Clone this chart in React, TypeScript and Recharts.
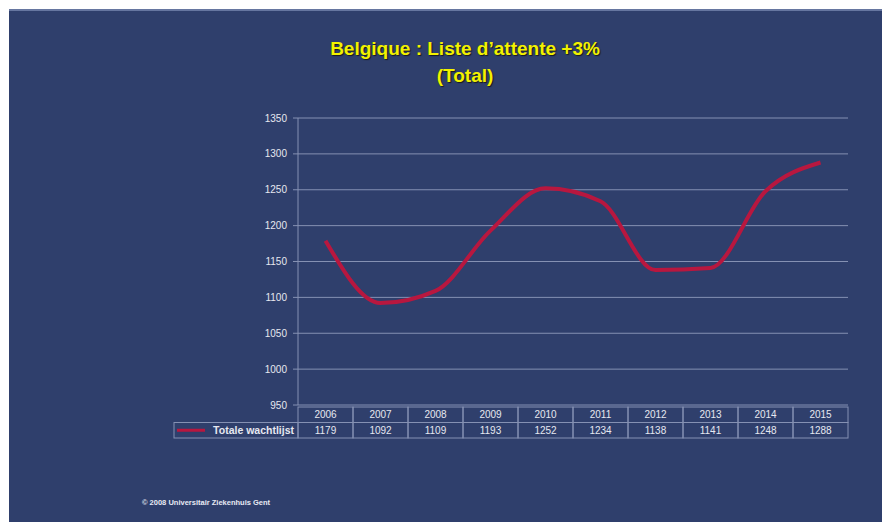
import { CartesianGrid, Line, LineChart, XAxis, YAxis } from "recharts";

const years = ["2006", "2007", "2008", "2009", "2010", "2011", "2012", "2013", "2014", "2015"];
const totals = [1179, 1092, 1109, 1193, 1252, 1234, 1138, 1141, 1248, 1288];
const yTicks = [950, 1000, 1050, 1100, 1150, 1200, 1250, 1300, 1350];
const seriesName = "Totale wachtlijst";

const data = years.map((year, i) => ({ year, total: totals[i] }));

const BG = "#2f3f6c";
const LINE = "#b8173f";
const GRID = "#8591b3";
const TEXT = "#e6e8f0";
const FONT = "'Liberation Sans', Arial, sans-serif";

// table under the plot: year row + value row, one cell per category
const TABLE_TOP = 396;
const ROW_H = 15.5;
const CELL_W = 55;
const LEGEND_W = 124;

function TableTick(props: any) {
  const { x, payload, index } = props;
  const left = x - CELL_W / 2;
  const value = totals[index];
  return (
    <g fontFamily={FONT} fontSize={10} fill={TEXT}>
      <rect x={left} y={TABLE_TOP} width={CELL_W} height={ROW_H} fill="none" stroke={GRID} strokeWidth={1} />
      <rect x={left} y={TABLE_TOP + ROW_H} width={CELL_W} height={ROW_H} fill="none" stroke={GRID} strokeWidth={1} />
      <text x={x} y={TABLE_TOP + 11} textAnchor="middle">{payload.value}</text>
      <text x={x} y={TABLE_TOP + ROW_H + 11} textAnchor="middle">{value}</text>
      {index === 0 && (
        <g>
          <rect x={left - LEGEND_W} y={TABLE_TOP + ROW_H} width={LEGEND_W} height={ROW_H} fill="none" stroke={GRID} strokeWidth={1} />
          <line x1={left - LEGEND_W + 3} x2={left - LEGEND_W + 31} y1={TABLE_TOP + ROW_H * 1.5} y2={TABLE_TOP + ROW_H * 1.5} stroke={LINE} strokeWidth={3} />
          <text x={left - 4} y={TABLE_TOP + ROW_H + 11} textAnchor="end" fontSize={10.5} fontWeight="bold">{seriesName}</text>
        </g>
      )}
    </g>
  );
}

export default function App() {
  return (
    <div
      style={{
        position: "relative",
        width: 882,
        height: 514,
        marginLeft: 1,
        marginTop: 1,
        background: BG,
        borderTop: "2px solid #6676a0",
        boxSizing: "border-box",
        fontFamily: FONT,
      }}
    >
      <div
        style={{
          position: "absolute",
          left: 0,
          width: 912,
          top: 24,
          textAlign: "center",
          color: "#f2f200",
          fontWeight: "bold",
          fontSize: 19,
          lineHeight: "27px",
          textShadow: "1px 1px 1px #1a1a1a",
        }}
      >
        Belgique : Liste d’attente +3%
        <br />
        (Total)
      </div>
      <LineChart
        width={882}
        height={512}
        data={data}
        margin={{ top: 107, right: 43, left: 0, bottom: 78 }}
        style={{ position: "absolute", left: 0, top: 0 }}
      >
        <CartesianGrid vertical={false} stroke={GRID} strokeWidth={1} />
        <XAxis
          dataKey="year"
          padding={{ left: CELL_W / 2, right: CELL_W / 2 }}
          axisLine={false}
          tickLine={false}
          interval={0}
          height={40}
          tick={<TableTick />}
        />
        <YAxis
          width={289}
          domain={[950, 1350]}
          ticks={yTicks}
          interval={0}
          axisLine={{ stroke: GRID }}
          tickLine={{ stroke: GRID }}
          tickSize={5}
          tickMargin={6}
          tick={{ fill: TEXT, fontSize: 10, fontFamily: FONT }}
        />
        <Line
          type="monotone"
          dataKey="total"
          stroke={LINE}
          strokeWidth={4}
          dot={false}
          isAnimationActive={false}
        />
      </LineChart>
      <div
        style={{
          position: "absolute",
          left: 133,
          top: 487,
          color: "#e8eaf4",
          fontSize: 7.5,
          fontWeight: "bold",
        }}
      >
        © 2008 Universitair Ziekenhuis Gent
      </div>
    </div>
  );
}
